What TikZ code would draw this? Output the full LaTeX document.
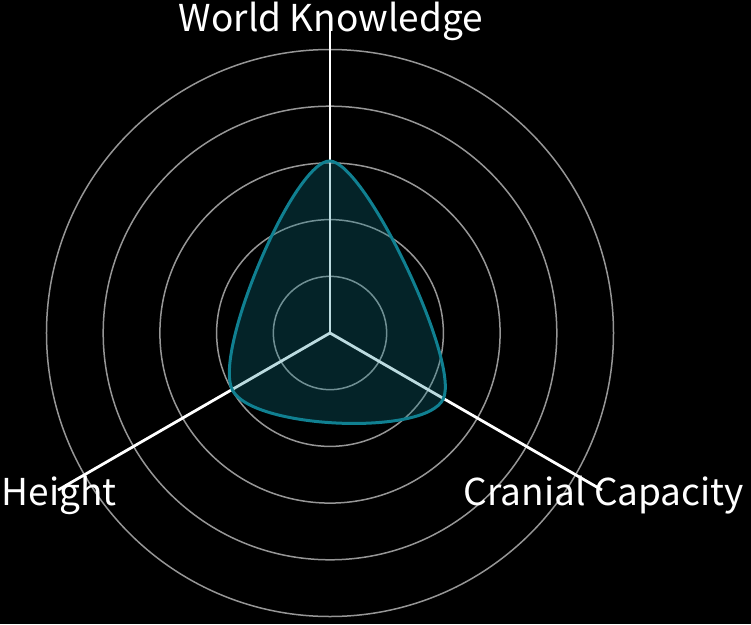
\documentclass[tikz,border=0pt]{standalone}
\usepackage{fontspec}
\usepackage{tikz}
\usetikzlibrary{calc}
\newfontfamily\axisfont{Noto Sans CJK SC}
\definecolor{ringgray}{RGB}{150,150,150}
\definecolor{shapeteal}{RGB}{16,128,145}
\tikzstyle{ring}=[draw=ringgray,line width=1.5pt]
\tikzstyle{axisline}=[draw=white,line width=2.8pt]
\tikzstyle{axislabel}=[text=white,inner sep=0pt,anchor=base,font=\axisfont\fontsize{37}{44}\selectfont]
\tikzstyle{datashape}=[draw=shapeteal,line width=3pt,fill=shapeteal,fill opacity=0.28,draw opacity=1]
\newcommand{\ctl}[3]{($(#1)+0.1667*(#2)-0.1667*(#3)$)}

\begin{document}
\begin{tikzpicture}[x=1pt,y=1pt]
    \fill[black] (-330,-291) rectangle (421,333);
    \useasboundingbox (-330,-291) rectangle (421,333);
    \coordinate (o) at (0,0);
    \foreach \k in {1,...,5}
      \path[ring] (o) circle (56.7*\k);
    \coordinate (wkend) at (90:314);
    \coordinate (ccend) at (-30:314);
    \coordinate (htend) at (210:314);
    \draw[axisline] (o) -- (wkend);
    \draw[axisline] (o) -- (ccend);
    \draw[axisline] (o) -- (htend);
    \coordinate (wk) at (90:172);
    \coordinate (cc) at (-30:131);
    \coordinate (ht) at (210:113);
    \path[datashape] (wk)
      .. controls \ctl{wk}{cc}{ht} and \ctl{cc}{wk}{ht} .. (cc)
      .. controls \ctl{cc}{ht}{wk} and \ctl{ht}{cc}{wk} .. (ht)
      .. controls \ctl{ht}{wk}{cc} and \ctl{wk}{ht}{cc} .. (wk) -- cycle;
    \node[axislabel] (wklabel) at ($(wkend)+(1,-13)$) {World Knowledge};
    \node[axislabel] (cclabel) at ($(ccend)+(2,-15)$) {Cranial Capacity};
    \node[axislabel] (htlabel) at ($(htend)+(1,-15)$) {Height};
  \end{tikzpicture}
\end{document}
